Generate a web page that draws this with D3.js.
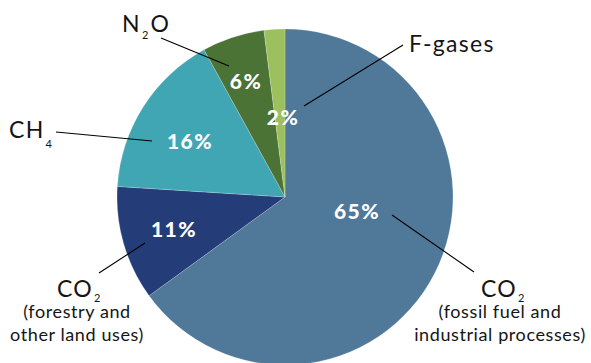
<!DOCTYPE html>
<html>
<head>
<meta charset="utf-8">
<script src="https://cdn.jsdelivr.net/npm/d3@7"></script>
<style>
  html, body { margin: 0; padding: 0; background: #fff; }
  svg { display: block; }
  .cat { font-family: Lato, "Open Sans", sans-serif; font-weight: 400; fill: #151515; }
  .pct { font-family: Lato, "Open Sans", sans-serif; font-weight: 900; fill: #fff; }
</style>
</head>
<body>
<svg id="chart" width="591" height="363"></svg>
<script>
// Global greenhouse gas emissions by gas (share of total)
const gases   = ["CO2 fossil", "CO2 forestry", "CH4", "N2O", "F-gases"];
const shares  = [65, 11, 16, 6, 2];
const colours = ["#4f7899", "#243d78", "#40a6b3", "#4a7335", "#9bc05d"];

// Category captions: main text, subscript, and extra lines
const captionMain = ["CO", "CO", "CH", "N", "F-gases"];
const captionSub  = ["2", "2", "4", "2", ""];
const captionTail = ["", "", "", "O", ""];
const captionNote = [["(fossil fuel and", "industrial processes)"],
                     ["(forestry and", "other land uses)"], [], [], []];

const width = 591, height = 363;
const cx = 285, cy = 197, radius = 168;

const svg = d3.select("#chart");
const g = svg.append("g").attr("transform", `translate(${cx},${cy})`);

const pie = d3.pie().sort(null).value(d => d).startAngle(0).endAngle(2 * Math.PI);
const arcs = pie(shares);
const arc = d3.arc().innerRadius(0).outerRadius(radius);
const colour = d3.scaleOrdinal().domain(d3.range(gases.length)).range(colours);

g.selectAll("path.slice")
  .data(arcs)
  .join("path")
  .attr("class", "slice")
  .attr("d", arc)
  .attr("fill", (d, i) => colour(i))
  .attr("stroke", "#ffffff")
  .attr("stroke-opacity", 0.35)
  .attr("stroke-width", 0.6);

// Percentage label placement (offsets from the pie centre)
const pctOffset = [[72, 15], [-111, 33], [-95, -55], [-39, -115], [-2, -79]];
g.selectAll("text.pct")
  .data(arcs)
  .join("text")
  .attr("class", "pct")
  .attr("x", (d, i) => pctOffset[i][0])
  .attr("y", (d, i) => pctOffset[i][1])
  .attr("dy", "0.35em")
  .attr("text-anchor", "middle")
  .attr("font-size", 21)
  .attr("letter-spacing", 1.4)
  .text(d => d.data + "%");

// Leader lines, in page coordinates: [x1, y1, x2, y2]
const leaders = [[392, 215, 474, 272], [145, 243, 99, 273], [152, 141, 56, 132],
                 [229, 66, 161, 38], [304, 106, 403, 45]];
svg.selectAll("line.leader")
  .data(leaders)
  .join("line")
  .attr("class", "leader")
  .attr("x1", d => d[0]).attr("y1", d => d[1])
  .attr("x2", d => d[2]).attr("y2", d => d[3])
  .attr("stroke", "#000")
  .attr("stroke-width", 1.1);

// Caption anchor points: [x, baseline]
const captionPos = [[481, 297], [57, 297], [9, 138], [122, 32], [409, 52]];
const noteCentre = [[500, 318], [77, 318]];

gases.forEach((name, i) => {
  const [x, y] = captionPos[i];
  const t = svg.append("text")
    .attr("class", "cat")
    .attr("x", x).attr("y", y)
    .attr("font-size", 23)
    .attr("letter-spacing", 1.3);
  t.append("tspan").text(captionMain[i]);
  if (captionSub[i]) {
    const drop = i === 2 ? 10 : (i === 3 ? 7 : 5);
    t.append("tspan").attr("font-size", 11).attr("dy", drop)
      .attr("dx", 1).text(captionSub[i]);
  }
  if (captionTail[i]) {
    t.append("tspan").attr("dy", -7).attr("dx", 1).text(captionTail[i]);
  }
  captionNote[i].forEach((line, k) => {
    svg.append("text")
      .attr("class", "cat")
      .attr("x", noteCentre[i][0])
      .attr("y", noteCentre[i][1] + k * 23)
      .attr("text-anchor", "middle")
      .attr("font-size", 18)
      .attr("letter-spacing", 0.6)
      .text(line);
  });
});
</script>
</body>
</html>
